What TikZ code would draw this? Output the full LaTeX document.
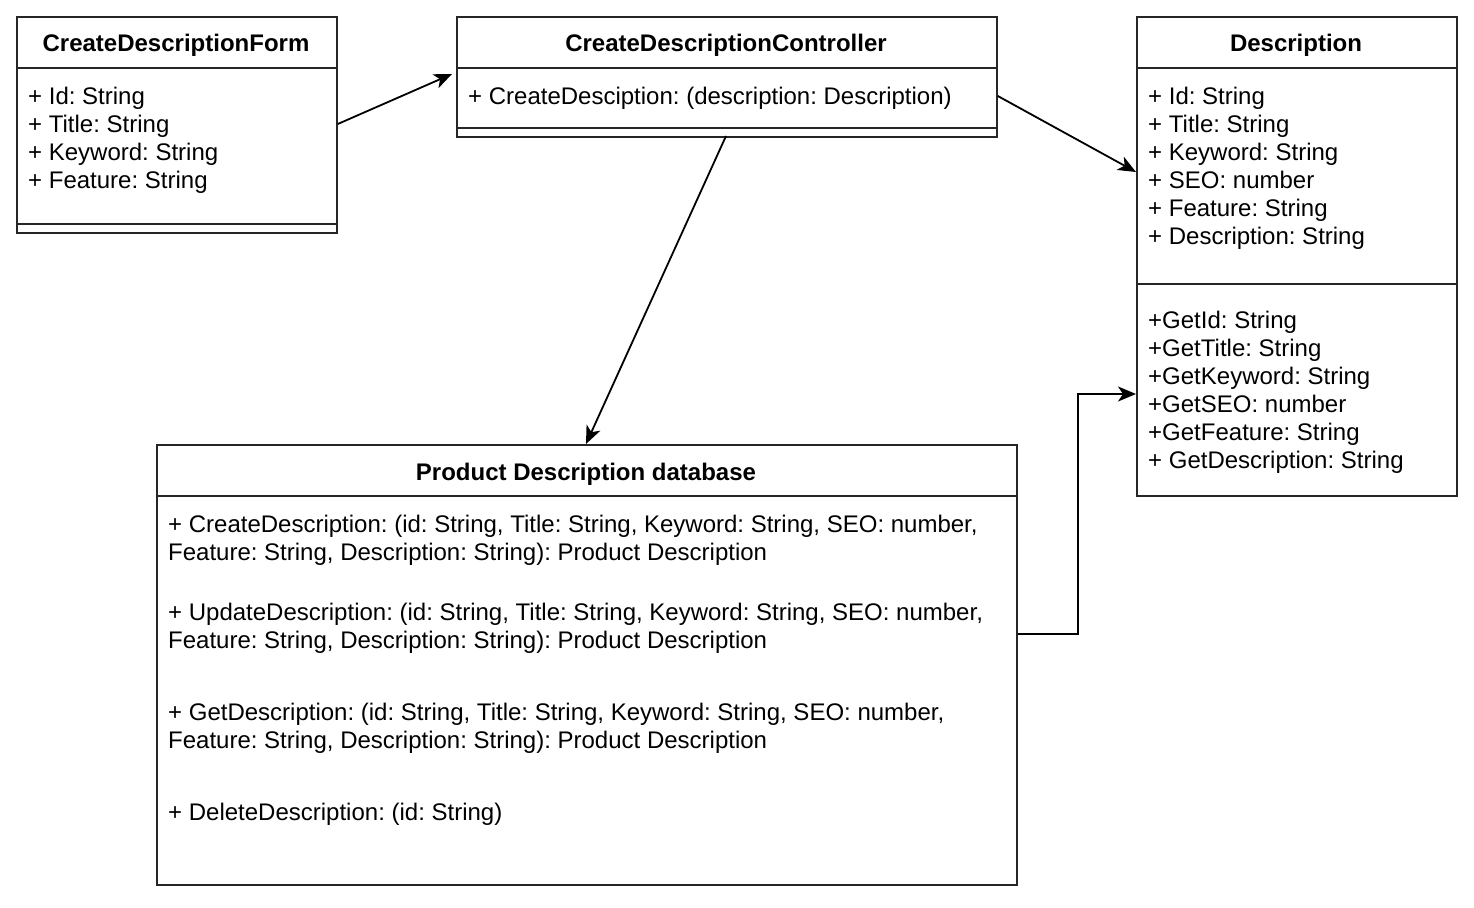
\documentclass[tikz,border=0pt]{standalone}
\usepackage{fontspec}
\setmainfont{Liberation Sans}
\usetikzlibrary{arrows.meta,calc}
\frenchspacing
\tikzset{
  box/.style={draw=black!85, line width=1.8pt, fill=white, rectangle, anchor=north west, inner sep=0pt},
  sep/.style={draw=black!85, line width=1.8pt},
  ttl/.style={anchor=base, inner sep=0pt, font=\fontsize{24}{28}\selectfont\bfseries},
  txt/.style={anchor=base west, inner sep=0pt, font=\fontsize{24}{28}\selectfont},
  conn/.style={draw=black, line width=1.8pt, -{Stealth[length=18pt,width=15pt,inset=5pt]}}
}
\begin{document}
\begin{tikzpicture}[x=1pt,y=-1pt]
\useasboundingbox (0,0) rectangle (1474,907);
% Box 1
\node[box, minimum width=320, minimum height=216] (b1) at (16,16) {};
\draw[sep] (16,68) -- (336,68);
\draw[sep] (16,224) -- (336,224);
\node[ttl] (t1) at (176,52) {CreateDescriptionForm};
\foreach \s [count=\i] in {+ Id: String, + Title: String, + Keyword: String, + Feature: String}
  \node[txt] (a1\i) at (28,{76+28*\i}) {\s};
% Box 2
\node[box, minimum width=540, minimum height=120] (b2) at (456,16) {};
\draw[sep] (456,68) -- (996,68);
\draw[sep] (456,128) -- (996,128);
\node[ttl] (t2) at (726,52) {CreateDescriptionController};
\node[txt] (a21) at (468,104) {+ CreateDesciption: (description: Description)};
% Box 3
\node[box, minimum width=320, minimum height=479] (b3) at (1136,16) {};
\draw[sep] (1136,68) -- (1456,68);
\draw[sep] (1136,284) -- (1456,284);
\node[ttl] (t3) at (1296,52) {Description};
\foreach \s [count=\i] in {+ Id: String, + Title: String, + Keyword: String, + SEO: number, + Feature: String, + Description: String}
  \node[txt] (a3\i) at (1148,{76+28*\i}) {\s};
\foreach \s [count=\i] in {+GetId: String, +GetTitle: String, +GetKeyword: String, +GetSEO: number, +GetFeature: String, + GetDescription: String}
  \node[txt] (m3\i) at (1148,{300+28*\i}) {\s};
% Box 4
\node[box, minimum width=860, minimum height=440] (b4) at (156,444) {};
\draw[sep] (156,496) -- (1016,496);
\node[ttl] (t4) at (586,480) {Product Description database};
\node[txt] (m41) at (168,532) {+ CreateDescription: (id: String, Title: String, Keyword: String, SEO: number,};
\node[txt] (m42) at (168,560) {Feature: String, Description: String): Product Description};
\node[txt] (m43) at (168,620) {+ UpdateDescription: (id: String, Title: String, Keyword: String, SEO: number,};
\node[txt] (m44) at (168,648) {Feature: String, Description: String): Product Description};
\node[txt] (m45) at (168,720) {+ GetDescription: (id: String, Title: String, Keyword: String, SEO: number,};
\node[txt] (m46) at (168,748) {Feature: String, Description: String): Product Description};
\node[txt] (m47) at (168,820) {+ DeleteDescription: (id: String)};
% Connectors
\draw[conn] ($(b1.north east)+(0,108)$) -- ($(b2.north west)+(-4,58)$);
\draw[conn] ($(b2.north east)+(0,80)$) -- ($(b3.north west)+(0,156)$);
\draw[conn] ($(b2.north west)+(270,120)$) -- ($(b4.north west)+(430,0)$);
\draw[conn] ($(b4.north east)+(0,190)$) -- ++(60,0) |- ($(b3.north west)+(0,378)$);
\end{tikzpicture}
\end{document}
